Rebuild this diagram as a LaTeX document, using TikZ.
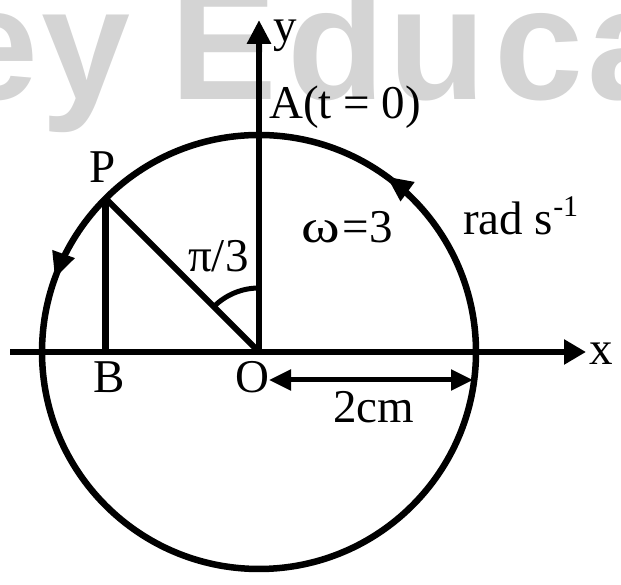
\documentclass[tikz,border=0pt]{standalone}
\usepackage{fontspec}
\setmainfont{Liberation Serif}
\newfontfamily\wmfont{Liberation Sans}
\usetikzlibrary{arrows.meta,decorations.markings}
\begin{document}
\begin{tikzpicture}[x=1pt,y=1pt,
  lbl/.style={inner sep=0pt, anchor=base west, font=\fontsize{47}{50}\selectfont},
  wm/.style={anchor=base west, inner sep=0pt, text=black!17,
      font=\wmfont\bfseries\fontsize{160}{160}\selectfont},
  thickline/.style={line width=6.5pt},
  axistip/.style={-{Triangle[length=22pt,width=24pt]}},
  circtip/.tip={Triangle[length=26pt,width=22pt]},
  dimtip/.style={{Triangle[length=22pt,width=20pt]}-{Triangle[length=22pt,width=20pt]}}
]
\useasboundingbox (0,0) rectangle (621,585);
\clip (0,0) rectangle (621,585);
% watermark
\node[wm] (w1) at (-51,485) {e};
\node[wm] (w2) at (41,485) {y};
\node[wm] (w3) at (170,485) {E};
\node[wm] (w4) at (287,485) {d};
\node[wm] (w5) at (388,485) {u};
\node[wm] (w6) at (494,485) {c};
\node[wm] (w7) at (587,485) {a};
% key points
\coordinate (O) at (259,233);
\coordinate (P) at (105.6,386.4);
\coordinate (B) at (105.6,233);
\coordinate (xs) at (10,233);
\coordinate (xe) at (586,233);
\coordinate (ye) at (259,565);
\coordinate (dl) at (269,205);
\coordinate (dr) at (473,205);
% circle with direction arrows
\draw[thickline, postaction={decorate},
  decoration={markings,
    mark=at position 0.15 with {\arrow{circtip}},
    mark=at position 0.445 with {\arrow{circtip}}}]
  (O) ++(0:217) arc[start angle=0, end angle=360, radius=217];
% axes
\draw[thickline, axistip] (xs) -- (xe);
\draw[thickline, -{Triangle[length=24pt,width=23pt]}] (O) -- (ye);
% radius and perpendicular
\draw[line width=6pt] (O) -- (P);
\draw[line width=6.5pt] (P) -- (B);
% angle mark
\draw[line width=5pt] (O) ++(90:64) arc[start angle=90, end angle=135, radius=64];
% dimension
\draw[line width=5pt, dimtip] (dl) -- (dr);
% labels
\node[lbl] (ly) at (273,543) {y};
\node[lbl] (lA) at (269,466) {A(t = 0)};
\node[lbl] (lP) at (89,402) {P};
\node[lbl] (lB) at (93,192) {B};
\node[lbl] (lO) at (235,192) {O};
\node[lbl] (lx) at (589,220) {x};
\node[lbl] (l2) at (333,162) {2cm};
\node[lbl] (lpi) at (188,313) {π/3};
\node[lbl] (lw) at (301,342) {\scalebox{1.25}[1]{ω}\kern3pt=3};
\node[lbl] (lr) at (463,350) {rad s\raisebox{18pt}{\fontsize{30}{32}\selectfont -1}};
\end{tikzpicture}
\end{document}
